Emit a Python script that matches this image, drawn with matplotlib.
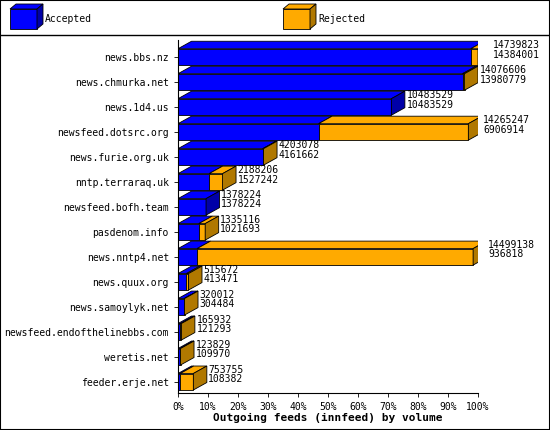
import matplotlib
matplotlib.use("Agg")
import matplotlib.pyplot as plt
from matplotlib.patches import Polygon, Rectangle

sites = ["news.bbs.nz", "news.chmurka.net", "news.1d4.us", "newsfeed.dotsrc.org",
         "news.furie.org.uk", "nntp.terraraq.uk", "newsfeed.bofh.team", "pasdenom.info",
         "news.nntp4.net", "news.quux.org", "news.samoylyk.net",
         "newsfeed.endofthelinebbs.com", "weretis.net", "feeder.erje.net"]
total = [14739823, 14076606, 10483529, 14265247, 4203078, 2188206, 1378224, 1335116,
         14499138, 515672, 320012, 165932, 123829, 753755]
accepted = [14384001, 13980779, 10483529, 6906914, 4161662, 1527242, 1378224, 1021693,
            936818, 413471, 304484, 121293, 109970, 108382]

BLUE = "#0000ff"; ORANGE = "#ffaa00"
BLUE_D = "#0000a8"; ORANGE_D = "#b07800"
FONT = "DejaVu Sans Mono"

fig = plt.figure(figsize=(5.5, 4.3), dpi=100)
ax = fig.add_axes([178/550, 1-393/430, 300/550, (393-40)/430])
mx = max(total)
h = 0.66
dx, dy = 4.5, 0.3

def box(x0, x1, y, face, top_col):
    ax.add_patch(Rectangle((x0, y - h/2), x1 - x0, h, facecolor=face, edgecolor="black", lw=0.6))
    ax.add_patch(Polygon([(x0, y - h/2), (x0 + dx, y - h/2 - dy), (x1 + dx, y - h/2 - dy), (x1, y - h/2)],
                         facecolor=top_col, edgecolor="black", lw=0.6))

for i, (t, a) in enumerate(zip(total, accepted)):
    pa = a / mx * 100; pt = t / mx * 100
    box(0, pa, i, BLUE, BLUE)
    right_col = BLUE_D
    if pt > pa:
        box(pa, pt, i, ORANGE, ORANGE)
        right_col = ORANGE_D
    ax.add_patch(Polygon([(pt, i - h/2), (pt + dx, i - h/2 - dy), (pt + dx, i + h/2 - dy), (pt, i + h/2)],
                         facecolor=right_col, edgecolor="black", lw=0.6))
    ax.text(pt + dx + 0.5, i - h/2 - dy - 0.05, f"{t}\n{a}", fontsize=7, family=FONT,
            va="top", ha="left", linespacing=0.95)

ax.set_xlim(0, 100)
ax.set_ylim(13.45, -0.68)
ax.set_yticks(range(len(sites)))
ax.set_yticklabels(sites, fontsize=7, family=FONT)
ax.set_xticks(range(0, 101, 10))
ax.set_xticklabels([f"{v}%" for v in range(0, 101, 10)], fontsize=7, family=FONT)
for s in ["top", "right"]:
    ax.spines[s].set_visible(False)
ax.tick_params(length=3, width=0.6)
ax.set_xlabel("Outgoing feeds (innfeed) by volume", fontsize=8, family=FONT,
              fontweight="bold", labelpad=1)

fig.add_artist(plt.Line2D([0, 1], [1-35/430, 1-35/430], color="black", lw=1, transform=fig.transFigure))
for x0, face, dark, lab in [(10, BLUE, BLUE_D, "Accepted"), (283, ORANGE, ORANGE_D, "Rejected")]:
    X = lambda p: p/550; Y = lambda p: 1-p/430
    fig.add_artist(Rectangle((X(x0), Y(29)), 27/550, 20/430, facecolor=face, edgecolor="black",
                             lw=0.6, transform=fig.transFigure))
    fig.add_artist(Polygon([(X(x0), Y(9)), (X(x0+6), Y(4)), (X(x0+33), Y(4)), (X(x0+27), Y(9))],
                           closed=True, facecolor=face, edgecolor="black", lw=0.6, transform=fig.transFigure))
    fig.add_artist(Polygon([(X(x0+27), Y(9)), (X(x0+33), Y(4)), (X(x0+33), Y(24)), (X(x0+27), Y(29))],
                           closed=True, facecolor=dark, edgecolor="black", lw=0.6, transform=fig.transFigure))
    fig.text(X(x0+35), Y(19), lab, fontsize=7, family=FONT, va="center")
fig.add_artist(Rectangle((0, 0), 1, 1, fill=False, edgecolor="black", lw=1.5, transform=fig.transFigure))
fig.savefig("out.png", dpi=100)
